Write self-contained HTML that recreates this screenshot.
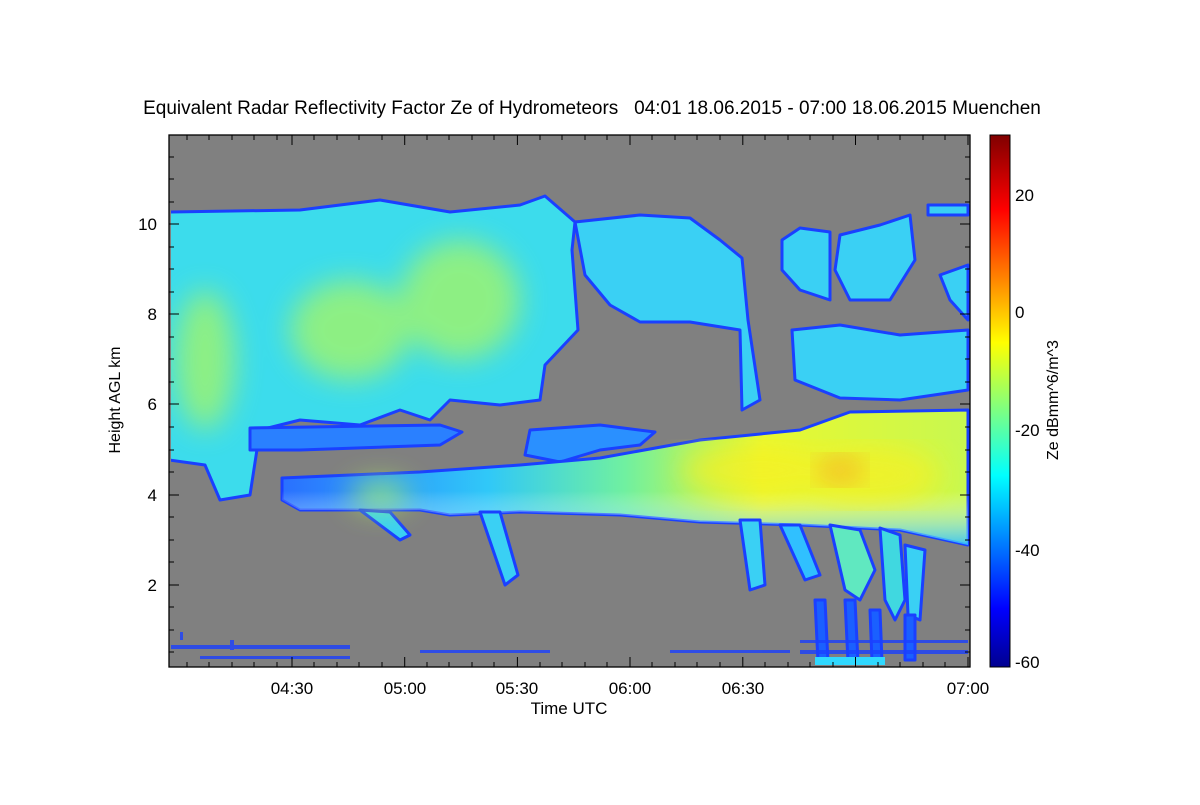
<!DOCTYPE html>
<html><head><meta charset="utf-8"><style>
body{margin:0;background:#fff;width:1200px;height:800px;overflow:hidden}
svg text{font-family:"Liberation Sans",sans-serif;fill:#000}
</style></head><body>
<svg width="1200" height="800" viewBox="0 0 1200 800">
<defs>
<linearGradient id="jet" x1="0" y1="1" x2="0" y2="0">
<stop offset="0" stop-color="#00008f"/><stop offset="0.11" stop-color="#0000ff"/>
<stop offset="0.36" stop-color="#00ffff"/><stop offset="0.61" stop-color="#ffff00"/>
<stop offset="0.86" stop-color="#ff0000"/><stop offset="1" stop-color="#800000"/>
</linearGradient>
<linearGradient id="band" x1="0" y1="0" x2="1" y2="0">
<stop offset="0" stop-color="#2a70ff"/><stop offset="0.3" stop-color="#30c8f8"/>
<stop offset="0.5" stop-color="#70f0a0"/><stop offset="0.7" stop-color="#e8f830"/><stop offset="1" stop-color="#c8f850"/>
</linearGradient>
<linearGradient id="bandv" x1="0" y1="0" x2="0" y2="1">
<stop offset="0" stop-color="#fff" stop-opacity="0"/><stop offset="0.6" stop-color="#fff" stop-opacity="0"/><stop offset="1" stop-color="#30c0ff" stop-opacity="0.9"/>
</linearGradient>
<filter id="blur"><feGaussianBlur stdDeviation="14"/></filter>
<clipPath id="pc"><rect x="171" y="135" width="799" height="532"/></clipPath>
</defs>
<text x="592" y="114" font-size="19" text-anchor="middle" xml:space="preserve" style="white-space:pre">Equivalent Radar Reflectivity Factor Ze of Hydrometeors   04:01 18.06.2015 - 07:00 18.06.2015 Muenchen</text>
<rect x="169" y="135" width="801" height="532" fill="#808080"/>
<g clip-path="url(#pc)">
<g stroke="#1a40ff" stroke-width="3" stroke-linejoin="round">
<path d="M169,212 L300,210 L380,200 L450,212 L520,205 L545,196 L575,222 L572,250 L578,330 L545,365 L540,400 L500,405 L450,400 L430,420 L400,410 L360,425 L300,420 L260,430 L250,495 L220,500 L205,465 L169,460 Z" fill="#3cdcec"/>
<path d="M250,428 L440,425 L462,432 L440,445 L300,450 L250,450 Z" fill="#2a80ff"/>
<path d="M575,222 L640,215 L690,218 L720,240 L742,258 L748,320 L760,400 L742,410 L740,330 L690,322 L640,322 L610,305 L585,275 Z" fill="#3ad0f4"/>
<path d="M782,240 L800,228 L830,232 L830,300 L800,290 L782,270 Z" fill="#3ad0f4"/>
<path d="M840,235 L880,225 L910,215 L915,260 L890,300 L850,300 L835,270 Z" fill="#3ad0f4"/>
<path d="M928,205 L968,205 L968,215 L928,215 Z" fill="#3ad0f4"/>
<path d="M940,275 L968,265 L968,320 L950,300 Z" fill="#3ad0f4"/>
<path d="M792,330 L840,325 L900,335 L968,330 L968,390 L900,400 L840,398 L795,380 Z" fill="#3ad0f4"/>
<path d="M530,430 L600,425 L655,432 L640,445 L600,450 L560,462 L525,455 Z" fill="#2a90ff"/>
<path d="M282,478 L420,472 L520,465 L600,458 L700,440 L800,430 L850,412 L968,410 L968,545 L900,530 L800,525 L700,522 L620,515 L520,512 L450,515 L420,510 L300,510 L282,500 Z" fill="url(#band)"/>
<path d="M282,478 L420,472 L520,465 L600,458 L700,440 L800,430 L850,412 L968,410 L968,545 L900,530 L800,525 L700,522 L620,515 L520,512 L450,515 L420,510 L300,510 L282,500 Z" fill="url(#bandv)" stroke="none"/>
<path d="M740,520 L760,520 L765,585 L750,590 Z" fill="#3ad0f4"/>
<path d="M780,525 L800,525 L820,575 L805,580 Z" fill="#30c0ff"/>
<path d="M830,525 L860,530 L875,570 L860,600 L845,590 Z" fill="#60e8c0"/>
<path d="M880,528 L900,535 L905,600 L895,620 L885,600 Z" fill="#40d8e0"/>
<path d="M905,545 L925,550 L920,620 L908,615 Z" fill="#3ad0f4"/>
<path d="M480,512 L500,512 L518,575 L505,585 Z" fill="#3ad0f4"/>
<path d="M360,510 L390,512 L410,535 L400,540 Z" fill="#3ad0f4"/>
<path d="M815,600 L825,600 L828,662 L818,662 Z" fill="#1a60ff"/>
<path d="M845,600 L855,600 L858,662 L848,662 Z" fill="#1a60ff"/>
<path d="M870,610 L880,610 L882,662 L872,662 Z" fill="#1a60ff"/>
<path d="M905,615 L915,615 L915,660 L905,660 Z" fill="#1a60ff"/>
</g>
<g fill="#b0f858" opacity="0.7" filter="url(#blur)">
<ellipse cx="205" cy="360" rx="30" ry="70"/>
<ellipse cx="350" cy="330" rx="60" ry="50"/>
<ellipse cx="460" cy="300" rx="60" ry="60"/>
<ellipse cx="380" cy="495" rx="30" ry="15"/>
</g>
<g fill="#f8f020" opacity="0.7" filter="url(#blur)">
<ellipse cx="760" cy="470" rx="80" ry="25"/>
<ellipse cx="870" cy="475" rx="70" ry="30"/>
</g>
<ellipse cx="840" cy="470" rx="25" ry="15" fill="#f89020" opacity="0.5" filter="url(#blur)"/>
<g fill="#1a40ff" opacity="0.8">
<rect x="170" y="645" width="180" height="4"/><rect x="200" y="656" width="150" height="3"/>
<rect x="670" y="650" width="120" height="3"/><rect x="800" y="640" width="168" height="3"/><rect x="800" y="650" width="168" height="4"/>
<rect x="180" y="632" width="3" height="8"/><rect x="230" y="640" width="4" height="10"/>
<rect x="420" y="650" width="130" height="3"/>
</g>
<rect x="815" y="657" width="70" height="8" fill="#30d8ff"/>
</g>
<rect x="169" y="135" width="801" height="532" fill="none" stroke="#000" stroke-width="1.3"/>
<g stroke="#000" stroke-width="1">
<path d="M292,667v-10M404.7,667v-10M517.4,667v-10M630,667v-10M742.8,667v-10M855.5,667v-10M968,667v-10M292,135v10M404.7,135v10M517.4,135v10M630,135v10M742.8,135v10M855.5,135v10M968,135v10"/>
<path d="M187,667v-5M209,667v-5M232,667v-5M254,667v-5M277,667v-5M314,667v-5M337,667v-5M359,667v-5M382,667v-5M427,667v-5M449,667v-5M472,667v-5M494,667v-5M540,667v-5M562,667v-5M585,667v-5M607,667v-5M652,667v-5M675,667v-5M697,667v-5M720,667v-5M765,667v-5M788,667v-5M810,667v-5M833,667v-5M878,667v-5M900,667v-5M923,667v-5M945,667v-5"/>
<path d="M187,135v5M209,135v5M232,135v5M254,135v5M277,135v5M314,135v5M337,135v5M359,135v5M382,135v5M427,135v5M449,135v5M472,135v5M494,135v5M540,135v5M562,135v5M585,135v5M607,135v5M652,135v5M675,135v5M697,135v5M720,135v5M765,135v5M788,135v5M810,135v5M833,135v5M878,135v5M900,135v5M923,135v5M945,135v5"/>
<path d="M169,224h10M169,314h10M169,404h10M169,495h10M169,585h10M970,224h-10M970,314h-10M970,404h-10M970,495h-10M970,585h-10"/>
<path d="M169,157h5M169,179h5M169,202h5M169,247h5M169,269h5M169,292h5M169,337h5M169,359h5M169,382h5M169,427h5M169,450h5M169,472h5M169,517h5M169,540h5M169,562h5M169,607h5M169,630h5M169,652h5M970,157h-5M970,179h-5M970,202h-5M970,247h-5M970,269h-5M970,292h-5M970,337h-5M970,359h-5M970,382h-5M970,427h-5M970,450h-5M970,472h-5M970,517h-5M970,540h-5M970,562h-5M970,607h-5M970,630h-5M970,652h-5"/>
</g>
<g font-size="17" text-anchor="middle">
<text x="292" y="694">04:30</text><text x="405" y="694">05:00</text><text x="517" y="694">05:30</text>
<text x="630" y="694">06:00</text><text x="743" y="694">06:30</text><text x="968" y="694">07:00</text>
<text x="569" y="714">Time UTC</text>
</g>
<g font-size="17" text-anchor="end">
<text x="157" y="230">10</text><text x="157" y="320">8</text><text x="157" y="410">6</text>
<text x="157" y="501">4</text><text x="157" y="591">2</text>
</g>
<text transform="translate(120,400) rotate(-90)" font-size="16" text-anchor="middle">Height AGL km</text>
<rect x="990" y="135" width="20" height="532" fill="url(#jet)" stroke="#000" stroke-width="1"/>
<g font-size="17">
<text x="1015" y="201">20</text><text x="1015" y="318">0</text><text x="1015" y="436">-20</text>
<text x="1015" y="556">-40</text><text x="1015" y="668">-60</text>
</g>
<text transform="translate(1058,400) rotate(-90)" font-size="16" text-anchor="middle">Ze dBmm^6/m^3</text>
</svg>
</body></html>
